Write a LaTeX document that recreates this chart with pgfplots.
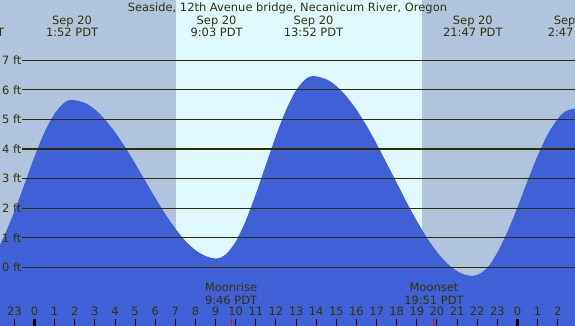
\documentclass[border=0pt]{standalone}
\usepackage{pgfplots}
\pgfplotsset{compat=1.18}
\usepackage{fontspec}
\setmainfont{DejaVu Sans}
\definecolor{nightc}{HTML}{B0C4DE}
\definecolor{dayc}{HTML}{E0F8FF}
\definecolor{tidec}{HTML}{4060D8}
\definecolor{txtc}{HTML}{333300}
\definecolor{linec}{HTML}{2E2E00}
\begin{document}
\begin{tikzpicture}[font=\fontsize{11.5}{12}\selectfont]
\begin{axis}[
  scale only axis, width=575bp, height=326bp,
  xmin=-1.715, xmax=26.86, ymin=-1.985, ymax=9.04,
  axis x line*=bottom, axis y line=none,
  axis line style={draw=none},
  ytick=\empty,
  xtick={-1,0,...,26},
  xticklabels={23,0,1,2,3,4,5,6,7,8,9,10,11,12,13,14,15,16,17,18,19,20,21,22,23,0,1,2},
  tick align=inside, major tick length=7bp,
  tick style={black, line width=1bp},
  xticklabel style={anchor=base, yshift=10.3bp, text=txtc, font=\fontsize{11.5}{12}\selectfont},
  extra x ticks={0,24}, extra x tick labels={},
  extra x tick style={tick style={line width=3.3bp, black}},
  axis on top,
  clip=true,
]
% backgrounds
\addplot[fill=nightc, draw=none] coordinates {(-3,-3) (28,-3) (28,10) (-3,10)} -- cycle;
\addplot[fill=dayc, draw=none] coordinates {(7.033,-3) (19.26,-3) (19.26,10) (7.033,10)} -- cycle;
% tide curve
\addplot[fill=tidec, draw=none, smooth] coordinates {
 (-2.0,0.5) (-1.8,0.66) (-1.5,1.07) (-1.0,1.89) (-0.5,2.81) (0.0,3.74) (0.5,4.57) (1.0,5.20) (1.5,5.58)
 (1.867,5.66) (2.5,5.56) (3.0,5.34) (3.5,5.00) (4.0,4.57) (4.5,4.07) (5.0,3.51) (5.5,2.93)
 (6.0,2.35) (6.5,1.80) (7.0,1.31) (7.5,0.89) (8.0,0.58) (8.5,0.38) (9.05,0.30)
 (9.5,0.43) (10.0,0.87) (10.5,1.58) (11.0,2.48) (11.5,3.47) (12.0,4.45) (12.5,5.32) (13.0,5.99) (13.5,6.38)
 (13.867,6.47) (14.5,6.36) (15.0,6.13) (15.5,5.78) (16.0,5.33) (16.5,4.79) (17.0,4.18) (17.5,3.52)
 (18.0,2.86) (18.5,2.19) (19.0,1.57) (19.5,1.00) (20.0,0.52) (20.5,0.14) (21.0,-0.13) (21.4,-0.25)
 (21.783,-0.29) (22.2,-0.19) (22.6,0.07) (23.0,0.50) (23.5,1.20) (24.0,2.03) (24.5,2.92) (25.0,3.77)
 (25.5,4.49) (26.0,5.02) (26.4,5.28) (26.783,5.36) (27.0,5.34)
} -- (axis cs:27.0,-2.2) -- (axis cs:-2.0,-2.2) -- cycle;
% horizontal lines
\pgfplotsinvokeforeach{0,...,7}{
  \addplot[linec, line width=1.2bp] coordinates {(-0.62,#1) (27,#1)};
  \node[anchor=west, inner sep=0pt, text=txtc] at (axis cs:-1.62,#1) {#1 ft};
}
% moon ticks
\addplot[red, line width=1bp] coordinates {(9.767,-2.1) (9.767,-1.748)};
\addplot[red, line width=1bp] coordinates {(19.85,-2.1) (19.85,-1.748)};
% title
\node[anchor=base, text=txtc] at (axis cs:12.57,8.634) {Seaside, 12th Avenue bridge, Necanicum River, Oregon};
% top labels
\node[anchor=base, text=txtc] at (axis cs:-2.98,8.22) {Sep 19};
\node[anchor=base, text=txtc] at (axis cs:-2.98,7.81) {21:01 PDT};
\node[anchor=base, text=txtc] at (axis cs:1.867,8.22) {Sep 20};
\node[anchor=base, text=txtc] at (axis cs:1.867,7.81) {1:52 PDT};
\node[anchor=base, text=txtc] at (axis cs:9.05,8.22) {Sep 20};
\node[anchor=base, text=txtc] at (axis cs:9.05,7.81) {9:03 PDT};
\node[anchor=base, text=txtc] at (axis cs:13.867,8.22) {Sep 20};
\node[anchor=base, text=txtc] at (axis cs:13.867,7.81) {13:52 PDT};
\node[anchor=base, text=txtc] at (axis cs:21.783,8.22) {Sep 20};
\node[anchor=base, text=txtc] at (axis cs:21.783,7.81) {21:47 PDT};
\node[anchor=base, text=txtc] at (axis cs:26.8,8.22) {Sep 21};
\node[anchor=base, text=txtc] at (axis cs:26.8,7.81) {2:47 PDT};
% moon labels
\node[anchor=base, text=txtc] at (axis cs:9.767,-0.825) {Moonrise};
\node[anchor=base, text=txtc] at (axis cs:9.767,-1.241) {9:46 PDT};
\node[anchor=base, text=txtc] at (axis cs:19.85,-0.825) {Moonset};
\node[anchor=base, text=txtc] at (axis cs:19.85,-1.241) {19:51 PDT};
\end{axis}
\pgfresetboundingbox
\path[use as bounding box] (current axis.south west) rectangle (current axis.north east);
\end{tikzpicture}
\end{document}
